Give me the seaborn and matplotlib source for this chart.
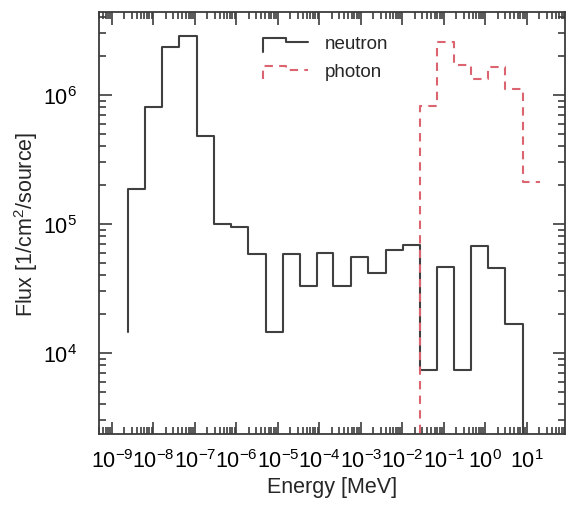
import matplotlib
matplotlib.use("Agg")
import matplotlib.pyplot as plt
import seaborn as sns
import pandas as pd
from matplotlib.lines import Line2D
from matplotlib.legend_handler import HandlerLine2D
from matplotlib.ticker import LogLocator, NullFormatter

# ---- data ----
energy_edges = [2.39e-9, 6.24e-9, 1.63e-8, 4.16e-8, 1.10e-7, 2.87e-7, 7.36e-7,
                1.92e-6, 5.06e-6, 1.30e-5, 3.39e-5, 8.85e-5, 2.15e-4, 5.74e-4,
                1.45e-3, 4.00e-3, 1.01e-2, 2.64e-2, 6.67e-2, 0.174, 0.448,
                1.13, 2.95, 7.87, 20.6]
neutron_flux = [1.46e4, 1.87e5, 8.11e5, 2.37e6, 2.85e6, 4.83e5, 1.00e5,
                9.4e4, 5.85e4, 1.45e4, 5.85e4, 3.3e4, 5.96e4, 3.3e4,
                5.52e4, 4.17e4, 6.32e4, 6.88e4, 7.43e3, 4.67e4, 7.43e3,
                6.79e4, 4.56e4, 1.68e4, 0.0]
photon_flux = [0.0, 0.0, 0.0, 0.0, 0.0, 0.0, 0.0,
               0.0, 0.0, 0.0, 0.0, 0.0, 0.0, 0.0,
               0.0, 0.0, 0.0, 0.0, 8.26e5, 2.56e6, 1.71e6,
               1.33e6, 1.64e6, 1.11e6, 2.13e5]
particles = ["neutron", "photon"]
x_ticks = [1e-9, 1e-8, 1e-7, 1e-6, 1e-5, 1e-4, 1e-3, 1e-2, 1e-1, 1e0, 1e1]
x_tick_labels = [r"$10^{-9}$", r"$10^{-8}$", r"$10^{-7}$", r"$10^{-6}$",
                 r"$10^{-5}$", r"$10^{-4}$", r"$10^{-3}$", r"$10^{-2}$",
                 r"$10^{-1}$", r"$10^{0}$", r"$10^{1}$"]
y_ticks = [1e4, 1e5, 1e6]
y_tick_labels = [r"$10^{4}$", r"$10^{5}$", r"$10^{6}$"]

df = pd.DataFrame({
    "Energy": energy_edges + energy_edges,
    "Flux": neutron_flux + photon_flux,
    "particle": [particles[0]] * len(energy_edges) + [particles[1]] * len(energy_edges),
})

sns.set_style("ticks")
plt.rcParams["font.family"] = ["Liberation Sans", "DejaVu Sans"]
plt.rcParams["mathtext.fontset"] = "custom"
plt.rcParams["mathtext.rm"] = "Liberation Sans"
plt.rcParams["mathtext.it"] = "Liberation Sans:italic"
plt.rcParams["mathtext.bf"] = "Liberation Sans:bold"

axis_col = "#3c3c3c"
fig = plt.figure(figsize=(5.66, 5.06), dpi=100)
ax = fig.add_axes([99 / 566, 1 - 435 / 506, (565 - 99) / 566, (435 - 13) / 506])

sns.lineplot(data=df, x="Energy", y="Flux", hue="particle", style="particle",
             hue_order=particles, style_order=particles,
             palette={"neutron": "#404040", "photon": "#dc6470"},
             dashes={"neutron": "", "photon": (4, 3)},
             drawstyle="steps-pre", estimator=None, sort=False,
             linewidth=1.5, ax=ax)

ax.set_xscale("log")
ax.set_yscale("log")
ax.set_xlim(10 ** -9.313, 10 ** 1.92)
ax.set_ylim(10 ** 3.372, 10 ** 6.643)

ax.set_xticks(x_ticks, labels=x_tick_labels)
ax.set_yticks(y_ticks, labels=y_tick_labels)
ax.xaxis.set_minor_locator(LogLocator(base=10, subs=range(2, 10), numticks=200))
ax.yaxis.set_minor_locator(LogLocator(base=10, subs=range(2, 10), numticks=200))
ax.xaxis.set_minor_formatter(NullFormatter())
ax.yaxis.set_minor_formatter(NullFormatter())

ax.tick_params(which="both", direction="in", top=True, right=True,
               color=axis_col, width=1.2, labelsize=15.5, labelcolor="black")
ax.tick_params(which="major", length=9)
ax.tick_params(which="minor", length=5)
ax.tick_params(axis="x", which="major", pad=11)
ax.tick_params(axis="y", which="major", pad=16)
for s in ax.spines.values():
    s.set_visible(True)
    s.set_color(axis_col)
    s.set_linewidth(1.3)

ax.set_xlabel("Energy [MeV]", fontsize=15.5, labelpad=3)
ax.set_ylabel("Flux [1/cm$^{2}$/source]", fontsize=15.5, labelpad=2)


class StepHandler(HandlerLine2D):
    def create_artists(self, legend, orig_handle, xdescent, ydescent,
                       width, height, fontsize, trans):
        x0 = -xdescent
        y0 = -ydescent
        xs = [x0, x0, x0 + 0.5 * width, x0 + 0.5 * width, x0 + width]
        ys = [y0 - 0.3 * height, y0 + 0.75 * height, y0 + 0.75 * height,
              y0 + 0.45 * height, y0 + 0.45 * height]
        line = Line2D(xs, ys)
        self.update_prop(line, orig_handle, legend)
        line.set_drawstyle("default")
        line.set_marker("")
        line.set_transform(trans)
        return [line]


handles, labels = ax.get_legend_handles_labels()
ax.legend(handles, labels, handler_map={Line2D: StepHandler()}, frameon=False,
          loc="upper left", bbox_to_anchor=(0.352, 0.946), borderaxespad=0,
          borderpad=0, fontsize=13.5, handlelength=2.4, handletextpad=0.9,
          labelspacing=0.56)

fig.savefig("out.png", dpi=100)
